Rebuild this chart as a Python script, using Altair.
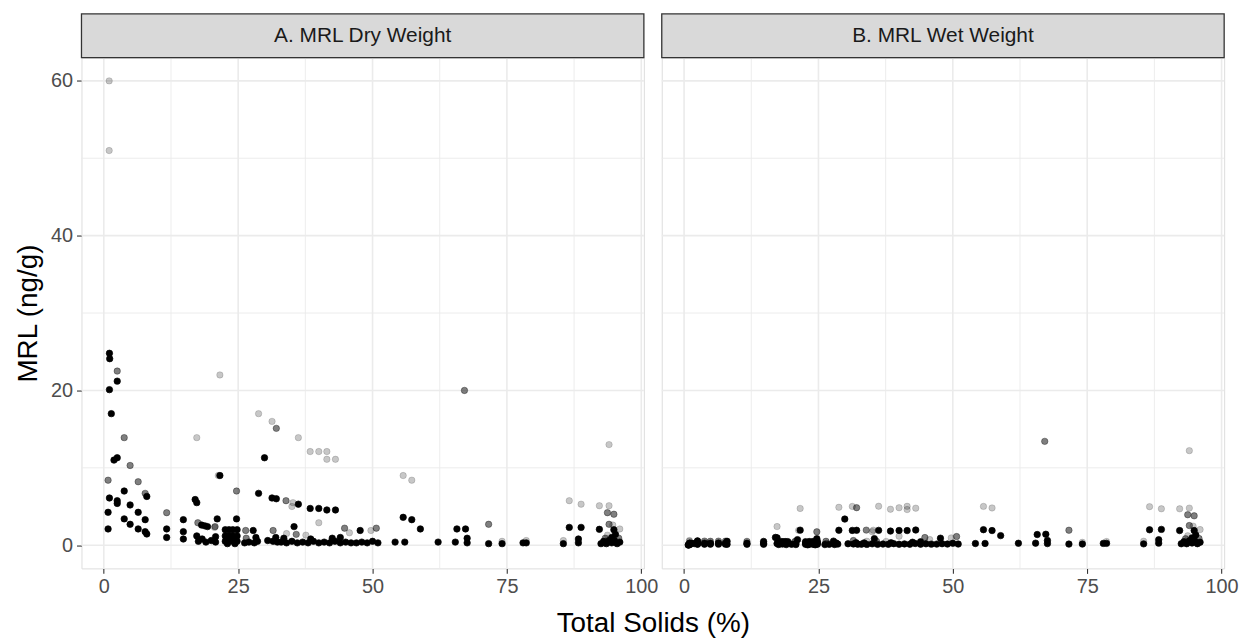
import altair as alt
import pandas as pd

FONT = "Liberation Sans"

# ---- data (Total Solids %, MRL dry weight ng/g, overlap level) ----
ts = [
    1.0, 1.0, 1.05, 1.1, 2.5, 2.5, 1.05, 1.4, 3.8, 1.9,
    2.5, 4.9, 0.8, 6.4, 3.8, 7.7, 8.0, 1.05, 2.5, 2.5,
    4.9, 0.8, 6.4, 3.8, 7.7, 4.9, 0.8, 6.4, 7.7, 8.0,
    11.7, 11.7, 11.7, 14.8, 14.8, 14.8, 17.3, 17.0, 17.3, 17.5,
    18.2, 18.8, 19.3, 20.7, 17.3, 17.6, 18.3, 19.0, 20.0, 20.8,
    20.8, 21.6, 21.3, 21.6, 20.6, 21.1, 24.7, 24.7, 22.6, 23.3,
    24.0, 24.8, 22.6, 23.3, 24.0, 24.8, 22.6, 23.3, 24.0, 24.8,
    23.0, 24.4, 26.4, 27.8, 26.2, 27.0, 28.0, 28.6, 26.5, 28.3,
    28.8, 31.3, 32.1, 29.9, 28.8, 31.3, 32.1, 31.5, 31.5, 30.5,
    32.3, 32.0, 36.2, 38.4, 40.0, 41.5, 41.5, 43.1, 33.9, 35.2,
    35.0, 36.2, 38.4, 40.0, 41.5, 43.1, 40.0, 35.4, 34.0, 35.8,
    37.6, 44.8, 45.7, 47.7, 49.7, 50.7,
    33.0, 34.0, 35.0, 36.0, 37.0, 38.0, 39.0, 40.0, 41.0, 42.0,
    43.0, 44.0, 45.0, 46.0, 47.0, 48.0, 49.0, 50.0, 51.0,
    33.5, 38.5, 42.5, 44.0, 54.2, 56.0, 62.2, 65.4,
    55.7, 57.3, 55.7, 57.3, 58.9, 65.7, 67.3, 67.1, 67.6, 67.6,
    71.6, 71.6, 74.1, 74.1, 78.0, 78.6, 78.6, 85.5, 85.5, 86.6,
    86.6, 88.3, 88.3, 88.8, 88.8, 92.2, 92.2, 94.0, 94.0, 93.7,
    94.9, 94.0, 94.7, 96.0, 94.9, 93.7,
    92.5, 93.0, 93.5, 94.0, 94.5, 94.5, 95.0, 95.2, 95.5, 96.0,
    93.3, 95.8,
]
mrl_dry = [
    60.0, 51.0, 24.8, 24.1, 22.5, 21.2, 20.1, 17.0, 13.9, 11.0,
    11.3, 10.3, 8.4, 8.2, 7.0, 6.7, 6.3, 6.1, 5.75, 5.4,
    5.2, 4.25, 4.25, 3.4, 3.3, 2.7, 2.1, 2.1, 1.75, 1.45,
    4.2, 2.1, 1.0, 3.3, 1.75, 0.8, 13.9, 5.9, 5.5, 2.9,
    2.6, 2.5, 2.4, 2.4, 1.2, 0.5, 0.8, 0.4, 0.6, 1.1,
    0.4, 22.0, 9.0, 9.0, 2.3, 3.4, 7.0, 3.4, 2.0, 2.0,
    2.0, 2.0, 1.2, 1.2, 1.2, 1.2, 0.5, 0.5, 0.5, 0.5,
    0.2, 0.2, 1.9, 1.9, 0.3, 0.4, 0.3, 0.5, 0.9, 1.0,
    17.0, 16.0, 15.1, 11.3, 6.7, 6.1, 6.0, 1.9, 0.5, 0.6,
    0.4, 1.0, 13.9, 12.1, 12.1, 12.1, 11.1, 11.1, 5.75, 5.5,
    5.0, 5.3, 4.75, 4.75, 4.55, 4.55, 2.9, 2.4, 1.5, 1.4,
    1.3, 2.2, 1.6, 1.9, 1.9, 2.2,
    0.4, 0.3, 0.5, 0.3, 0.4, 0.3, 0.5, 0.3, 0.4, 0.3,
    0.5, 0.3, 0.4, 0.3, 0.3, 0.4, 0.3, 0.5, 0.3,
    0.9, 0.8, 0.9, 1.0, 0.4, 0.4, 0.4, 0.4,
    9.0, 8.4, 3.6, 3.3, 2.1, 2.1, 2.1, 20.0, 0.9, 0.3,
    2.7, 0.2, 0.5, 0.2, 0.3, 0.3, 0.6, 0.2, 0.6, 5.75,
    2.3, 0.3, 0.8, 5.3, 2.3, 5.1, 2.05, 13.0, 5.1, 4.2,
    4.0, 2.7, 2.6, 2.1, 2.0, 1.3,
    0.2, 0.5, 0.2, 0.6, 1.0, 0.3, 0.6, 1.4, 0.2, 0.4,
    0.9, 0.9,
]
level = [
    1, 1, 3, 3, 2, 3, 3, 3, 2, 3,
    3, 2, 2, 2, 3, 2, 3, 3, 3, 3,
    3, 3, 3, 3, 3, 3, 3, 3, 3, 3,
    2, 3, 3, 3, 3, 3, 1, 3, 3, 2,
    3, 3, 3, 2, 3, 3, 3, 3, 3, 3,
    3, 1, 1, 3, 1, 3, 2, 3, 3, 3,
    3, 3, 3, 3, 3, 3, 3, 3, 3, 3,
    3, 3, 2, 3, 3, 3, 3, 3, 2, 3,
    1, 1, 2, 3, 3, 3, 3, 2, 3, 3,
    3, 3, 1, 1, 1, 1, 1, 1, 2, 1,
    1, 3, 3, 3, 3, 3, 1, 3, 1, 2,
    1, 2, 1, 3, 1, 2,
    3, 3, 3, 3, 3, 3, 3, 3, 3, 3,
    3, 3, 3, 3, 3, 3, 3, 3, 3,
    3, 3, 3, 3, 3, 3, 3, 3,
    1, 1, 3, 3, 3, 3, 3, 2, 3, 3,
    2, 3, 1, 3, 3, 3, 1, 3, 1, 1,
    3, 3, 3, 1, 3, 1, 3, 1, 1, 2,
    2, 2, 1, 1, 3, 1,
    3, 3, 3, 3, 3, 3, 3, 3, 3, 3,
    2, 2,
]

x_major = [0, 25, 50, 75, 100]
x_minor = [12.5, 37.5, 62.5, 87.5]
y_major = [0, 20, 40, 60]
y_minor = [10, 30, 50]
panels = ["A. MRL Dry Weight", "B. MRL Wet Weight"]

df = pd.DataFrame({"ts": ts, "dry": mrl_dry, "level": level})

W, H, SH = 566, 514, 44
GAP = 18
X_DOM = [-4.15, 100.48]
Y_DOM = [-3, 63]
xs = alt.Scale(domain=X_DOM, nice=False, zero=False)
ys = alt.Scale(domain=Y_DOM, nice=False, zero=False)
op_scale = alt.Scale(type="ordinal", domain=[1, 2, 3], range=[0.22, 0.5, 1.0])


def panel(field, label, with_y):
    xaxis_kw = dict(values=x_major, grid=False, domain=False, tickColor="#333333", tickSize=5,
                    tickWidth=1.1, labelColor="#4D4D4D", labelFont=FONT, labelFontSize=20,
                    labelPadding=3, labelFlush=False)
    if with_y:
        xaxis = alt.Axis(title="Total Solids (%)", titleX=W + GAP / 2, titleFont=FONT, titleFontSize=28,
                         titleFontWeight="normal", titleColor="#000000", titlePadding=13, **xaxis_kw)
        yaxis = alt.Axis(values=y_major, grid=False, domain=False, tickColor="#333333", tickSize=5,
                         tickWidth=1.1, labelColor="#4D4D4D", labelFont=FONT, labelFontSize=20,
                         labelPadding=4, title="MRL (ng/g)", titleFont=FONT, titleFontSize=28,
                         titleFontWeight="normal", titleColor="#000000", titlePadding=8)
    else:
        xaxis = alt.Axis(title="", **xaxis_kw)
        yaxis = None

    vmaj = alt.Chart(pd.DataFrame({"v": x_major})).mark_rule(color="#EBEBEB", strokeWidth=1.6).encode(
        x=alt.X("v:Q", scale=xs, axis=xaxis))
    vmin = alt.Chart(pd.DataFrame({"v": x_minor})).mark_rule(color="#EBEBEB", strokeWidth=0.9).encode(
        x=alt.X("v:Q", scale=xs, axis=xaxis))
    hmaj = alt.Chart(pd.DataFrame({"v": y_major})).mark_rule(color="#EBEBEB", strokeWidth=1.6).encode(
        y=alt.Y("v:Q", scale=ys, axis=yaxis))
    hmin = alt.Chart(pd.DataFrame({"v": y_minor})).mark_rule(color="#EBEBEB", strokeWidth=0.9).encode(
        y=alt.Y("v:Q", scale=ys, axis=yaxis))

    lab = pd.DataFrame({"label": [label]})
    strip_bg = alt.Chart(lab).mark_rect(fill="#D9D9D9", stroke="#333333", strokeWidth=1.3).encode(
        x=alt.value(0), x2=alt.value(W), y=alt.value(-SH), y2=alt.value(0))
    strip_txt = alt.Chart(lab).mark_text(
        font=FONT, fontSize=21, color="#1A1A1A", baseline="middle", align="center"
    ).encode(x=alt.value(W / 2), y=alt.value(-SH / 2), text="label:N")

    pts = alt.Chart(df).transform_calculate(
        wet="datum.dry * datum.ts / 100"
    ).mark_circle(size=42, fill="black", stroke="black", strokeWidth=0.7, opacity=1).encode(
        x=alt.X("ts:Q", scale=xs, axis=xaxis),
        y=alt.Y(field + ":Q", scale=ys, axis=yaxis),
        fillOpacity=alt.FillOpacity("level:O", scale=op_scale, legend=None),
        strokeOpacity=alt.StrokeOpacity("level:O", scale=op_scale, legend=None),
    )
    return alt.layer(vmin, hmin, vmaj, hmaj, pts, strip_bg, strip_txt).properties(width=W, height=H)


chart = alt.hconcat(
    panel("dry", panels[0], True), panel("wet", panels[1], False), spacing=GAP, bounds="flush"
).configure_view(
    stroke="#333333", strokeWidth=1.3
).configure(
    padding={"left": 14, "top": 10, "right": 10, "bottom": 0}, background="white"
)

chart.save("out.html", embed_options={"renderer": "svg", "actions": False})
